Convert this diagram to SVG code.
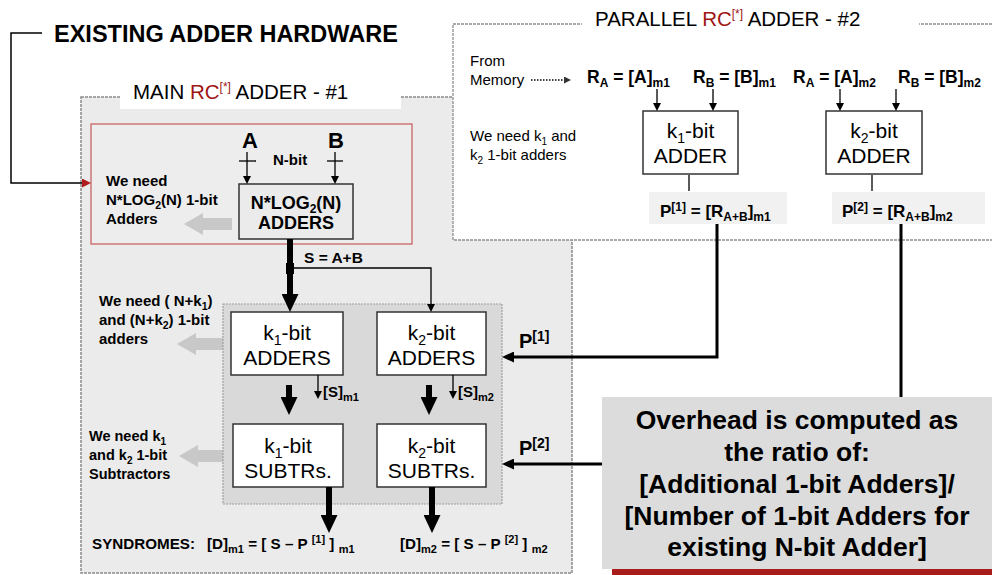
<svg xmlns="http://www.w3.org/2000/svg" width="992" height="575" viewBox="0 0 992 575">
<defs>
<style>
text{font-family:"Liberation Sans",Arial,Helvetica,sans-serif;fill:#000}
.b{font-weight:bold}
.rc{fill:#a01414}
.blk{fill:#fff;stroke:#333;stroke-width:1.5}
.ln{fill:none;stroke:#000}
.thin{stroke-width:1.3}
.thick{stroke-width:6}
.med{stroke-width:3}
.ga{fill:#c8c8c8}
.c{text-anchor:middle}
</style>
<marker id="mThin" markerUnits="userSpaceOnUse" markerWidth="8" markerHeight="8" refX="0" refY="4" orient="auto"><path d="M0,0 L8,4 L0,8 z" fill="#000"/></marker>
<marker id="mBig" markerUnits="userSpaceOnUse" markerWidth="18" markerHeight="17" refX="0" refY="8.5" orient="auto"><path d="M0,0 L18,8.5 L0,17 z" fill="#000"/></marker>
<marker id="mMed" markerUnits="userSpaceOnUse" markerWidth="12" markerHeight="11" refX="0" refY="5.5" orient="auto"><path d="M0,0 L12,5.5 L0,11 z" fill="#000"/></marker>
<marker id="mRed" markerUnits="userSpaceOnUse" markerWidth="9" markerHeight="9" refX="0" refY="4.5" orient="auto"><path d="M0,0 L9,4.5 L0,9 z" fill="#b01c1c"/></marker>
<marker id="mDot" markerUnits="userSpaceOnUse" markerWidth="7" markerHeight="7" refX="0" refY="3.5" orient="auto"><path d="M0,0 L7,3.5 L0,7 z" fill="#333"/></marker>
</defs>
<rect x="0" y="0" width="992" height="575" fill="#fff"/>

<text x="54" y="42" class="b" font-size="23.5">EXISTING ADDER HARDWARE</text>

<g id="main-rc-adder">
<rect x="81" y="97" width="491" height="476" fill="#ebebeb" stroke="#8a8a8a" stroke-width="1.5" stroke-dasharray="3 1"/>
<rect x="120" y="74" width="281" height="35" fill="#fff"/>
<text x="133" y="99" font-size="20.5">MAIN <tspan class="rc">RC</tspan><tspan class="rc" font-size="12" dy="-8">[*]</tspan><tspan dy="8"> ADDER - #1</tspan></text>
</g>

<g id="existing-adder">
<rect x="91" y="124" width="321" height="120" fill="#ededed" stroke="#c86464" stroke-width="1.3"/>
<text class="b" font-size="15"><tspan x="106" y="186">We need</tspan><tspan x="106" y="205">N*LOG<tspan font-size="10.5" dy="4">2</tspan><tspan dy="-4">(N) 1-bit</tspan></tspan><tspan x="106" y="224">Adders</tspan></text>
<polygon class="ga" points="184,224 203,213 203,218 232,218 232,230 203,230 203,235"/>
<text x="242" y="148" class="b" font-size="22">A</text>
<text x="328" y="148" class="b" font-size="22">B</text>
<text x="273" y="165" class="b" font-size="15">N-bit</text>
</g>

<g id="nlog-adders">
<rect x="239" y="184" width="114" height="55" fill="#ebebeb" stroke="#333" stroke-width="1.5"/>
<text x="296" y="209" class="b c" font-size="18">N*LOG<tspan font-size="12" dy="4">2</tspan><tspan dy="-4">(N)</tspan></text>
<text x="296" y="229" class="b c" font-size="18">ADDERS</text>
</g>

<g id="note-adders">
<text class="b" font-size="15"><tspan x="99" y="306">We need ( N+k<tspan font-size="10.5" dy="4">1</tspan><tspan dy="-4">)</tspan></tspan><tspan x="99" y="325">and (N+k<tspan font-size="10.5" dy="4">2</tspan><tspan dy="-4">) 1-bit</tspan></tspan><tspan x="99" y="344">adders</tspan></text>
<polygon class="ga" points="177,344 196,333 196,338 223,338 223,350 196,350 196,355"/>
</g>

<g id="note-subtractors">
<text class="b" font-size="14.5"><tspan x="89" y="441">We need k<tspan font-size="10" dy="4">1</tspan></tspan><tspan x="89" y="460">and k<tspan font-size="10" dy="4">2</tspan><tspan dy="-4"> 1-bit</tspan></tspan><tspan x="89" y="479">Subtractors</tspan></text>
<polygon class="ga" points="179,456 198,445 198,450 223,450 223,462 198,462 198,467"/>
</g>

<g id="inner-panel">
<rect x="223" y="304" width="279" height="200" fill="#d9d9d9" stroke="#a0a0a0" stroke-width="1.2" stroke-dasharray="2 1"/>
</g>

<g id="k1-adders">
<rect class="blk" x="231" y="312" width="112" height="63"/>
<text x="287" y="340" class="c" font-size="21">k<tspan font-size="14" dy="5">1</tspan><tspan dy="-5">-bit</tspan></text>
<text x="287" y="365" class="c" font-size="21">ADDERS</text>
</g>
<g id="k2-adders">
<rect class="blk" x="377" y="312" width="109" height="63"/>
<text x="431.5" y="340" class="c" font-size="21">k<tspan font-size="14" dy="5">2</tspan><tspan dy="-5">-bit</tspan></text>
<text x="431.5" y="365" class="c" font-size="21">ADDERS</text>
</g>
<g id="k1-subtrs">
<rect class="blk" x="233" y="424" width="110" height="63"/>
<text x="288" y="453" class="c" font-size="21">k<tspan font-size="14" dy="5">1</tspan><tspan dy="-5">-bit</tspan></text>
<text x="288" y="478" class="c" font-size="21">SUBTRs.</text>
</g>
<g id="k2-subtrs">
<rect class="blk" x="377" y="424" width="109" height="63"/>
<text x="431.5" y="453" class="c" font-size="21">k<tspan font-size="14" dy="5">2</tspan><tspan dy="-5">-bit</tspan></text>
<text x="431.5" y="478" class="c" font-size="21">SUBTRs.</text>
</g>

<g id="labels-main">
<text x="304" y="263" class="b" font-size="15.5">S = A+B</text>
<text x="323" y="397" class="b" font-size="15">[S]<tspan font-size="11" dy="4">m1</tspan></text>
<text x="458" y="397" class="b" font-size="15">[S]<tspan font-size="11" dy="4">m2</tspan></text>
<text x="519" y="348" class="b" font-size="20">P<tspan font-size="14" dy="-7">[1]</tspan></text>
<text x="519" y="455" class="b" font-size="20">P<tspan font-size="14" dy="-7">[2]</tspan></text>
<text x="92" y="549" class="b" font-size="15.2">SYNDROMES:</text>
<text x="207" y="549" class="b" font-size="15.2">[D]<tspan font-size="11" dy="4">m1</tspan><tspan dy="-4"> = [ S – P </tspan><tspan font-size="11" dy="-6">[1]</tspan><tspan dy="6"> ] </tspan><tspan font-size="11" dy="4">m1</tspan></text>
<text x="400" y="549" class="b" font-size="15.2">[D]<tspan font-size="11" dy="4">m2</tspan><tspan dy="-4"> = [ S – P </tspan><tspan font-size="11" dy="-6">[2]</tspan><tspan dy="6"> ] </tspan><tspan font-size="11" dy="4">m2</tspan></text>
</g>

<g id="parallel-rc-adder">
<rect x="453" y="24" width="560" height="216" fill="#fff" stroke="#909090" stroke-width="1.3" stroke-dasharray="3 1"/>
<rect x="582" y="4" width="337" height="28" fill="#fff"/>
<text x="595" y="26" font-size="20.5">PARALLEL <tspan class="rc">RC</tspan><tspan class="rc" font-size="12" dy="-8">[*]</tspan><tspan dy="8"> ADDER - #2</tspan></text>
<text font-size="15"><tspan x="470" y="66">From</tspan><tspan x="470" y="85">Memory</tspan></text>
<text font-size="15"><tspan x="470" y="141">We need k<tspan font-size="10" dy="4">1</tspan><tspan dy="-4"> and</tspan></tspan><tspan x="470" y="160">k<tspan font-size="10" dy="4">2</tspan><tspan dy="-4"> 1-bit adders</tspan></tspan></text>
<text x="587" y="83" class="b" font-size="17.5">R<tspan font-size="12" dy="4">A</tspan><tspan dy="-4"> = [A]</tspan><tspan font-size="12" dy="4">m1</tspan></text>
<text x="693" y="83" class="b" font-size="17.5">R<tspan font-size="12" dy="4">B</tspan><tspan dy="-4"> = [B]</tspan><tspan font-size="12" dy="4">m1</tspan></text>
<text x="793" y="83" class="b" font-size="17.5">R<tspan font-size="12" dy="4">A</tspan><tspan dy="-4"> = [A]</tspan><tspan font-size="12" dy="4">m2</tspan></text>
<text x="898" y="83" class="b" font-size="17.5">R<tspan font-size="12" dy="4">B</tspan><tspan dy="-4"> = [B]</tspan><tspan font-size="12" dy="4">m2</tspan></text>
</g>

<g id="k1-adder">
<rect class="blk" x="643" y="111" width="95" height="63"/>
<text x="690.5" y="138" class="c" font-size="21">k<tspan font-size="14" dy="5">1</tspan><tspan dy="-5">-bit</tspan></text>
<text x="690.5" y="163" class="c" font-size="21">ADDER</text>
</g>
<g id="k2-adder">
<rect class="blk" x="826" y="111" width="96" height="63"/>
<text x="874" y="138" class="c" font-size="21">k<tspan font-size="14" dy="5">2</tspan><tspan dy="-5">-bit</tspan></text>
<text x="874" y="163" class="c" font-size="21">ADDER</text>
</g>
<g id="p1-result">
<rect x="649" y="192" width="138" height="32" fill="#f1f1f1"/>
<text x="660" y="217" class="b" font-size="17">P<tspan font-size="12" dy="-6">[1]</tspan><tspan dy="6"> = [R</tspan><tspan font-size="12" dy="4">A+B</tspan><tspan dy="-4">]</tspan><tspan font-size="12" dy="4">m1</tspan></text>
</g>
<g id="p2-result">
<rect x="832" y="192" width="153" height="32" fill="#f1f1f1"/>
<text x="842" y="217" class="b" font-size="17">P<tspan font-size="12" dy="-6">[2]</tspan><tspan dy="6"> = [R</tspan><tspan font-size="12" dy="4">A+B</tspan><tspan dy="-4">]</tspan><tspan font-size="12" dy="4">m2</tspan></text>
</g>

<g id="connectors">
<path class="ln" d="M42,33 H11 V183 H82" stroke="#b01c1c" stroke-width="1.5" marker-end="url(#mRed)"/>
<path class="ln thin" d="M247,152 V176" marker-end="url(#mThin)"/>
<path class="ln thin" d="M239,161 H256"/>
<path class="ln thin" d="M335,152 V176" marker-end="url(#mThin)"/>
<path class="ln thin" d="M327,161 H343"/>
<path class="ln thick" d="M290,239 V294" marker-end="url(#mBig)"/>
<rect x="286" y="263" width="8" height="11" fill="#000"/>
<path class="ln thin" d="M290,268 H431 V304" marker-end="url(#mThin)"/>
<path class="ln thick" d="M289,385 V397" marker-end="url(#mBig)"/>
<path class="ln thick" d="M429,385 V397" marker-end="url(#mBig)"/>
<path class="ln thin" d="M318,375 V391" marker-end="url(#mThin)"/>
<path class="ln thin" d="M453,375 V391" marker-end="url(#mThin)"/>
<path class="ln thick" d="M329,487 V515" marker-end="url(#mBig)"/>
<path class="ln thick" d="M432,487 V515" marker-end="url(#mBig)"/>
<path class="ln med" d="M717,224 V357 H514" marker-end="url(#mMed)"/>
<path class="ln med" d="M901,224 V464 H514" marker-end="url(#mMed)"/>
<path class="ln" d="M531,80 H564" stroke="#555" stroke-width="1.3" stroke-dasharray="1.5 1.5" marker-end="url(#mDot)"/>
<path class="ln thin" d="M657,89 V103" marker-end="url(#mThin)"/>
<path class="ln thin" d="M713,89 V103" marker-end="url(#mThin)"/>
<path class="ln thin" d="M840,89 V103" marker-end="url(#mThin)"/>
<path class="ln thin" d="M896,89 V103" marker-end="url(#mThin)"/>
<path class="ln" d="M689,175 V191" stroke="#444" stroke-width="1.3"/>
<path class="ln" d="M872,175 V191" stroke="#444" stroke-width="1.3"/>
</g>

<g id="overhead-note">
<rect x="612" y="566" width="400" height="12" fill="#a81c1c"/>
<rect x="602" y="397" width="400" height="172" fill="#dcdcdc"/>
<text class="b c" font-size="26.5"><tspan x="797" y="429">Overhead is computed as</tspan><tspan x="797" y="461">the ratio of:</tspan><tspan x="797" y="493">[Additional 1-bit Adders]/</tspan><tspan x="797" y="525">[Number of 1-bit Adders for</tspan><tspan x="797" y="556">existing N-bit Adder]</tspan></text>
</g>
</svg>
